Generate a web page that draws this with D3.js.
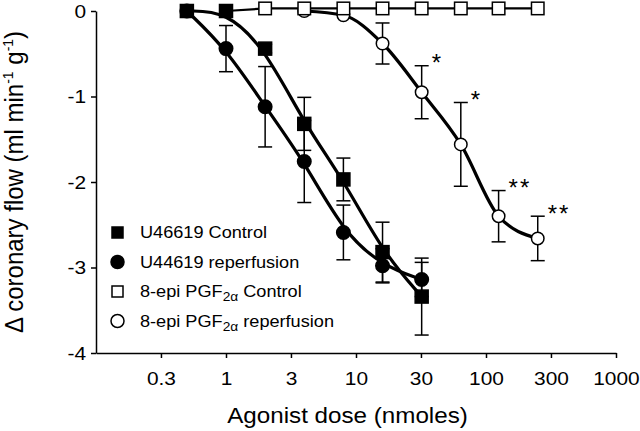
<!DOCTYPE html>
<html><head><meta charset="utf-8">
<script src="https://cdn.jsdelivr.net/npm/d3@7"></script>
<style>
body{margin:0;background:#fff}
svg{display:block;background:#fff}
text{font-family:"Liberation Sans",Arial,Helvetica,sans-serif;fill:#000}
</style>
</head><body>
<svg id="chart" width="640" height="431"></svg>
<script>
// ---- data ----
const uDoses = [0.5, 1, 2, 4, 8, 16, 32];
const u46619Control = [0, 0, -0.44, -1.32, -1.97, -2.82, -3.34];
const u46619ControlSem = [0, 0, 0.05, 0.31, 0.25, 0.35, 0.45];
const u44619Reperf = [0, -0.44, -1.12, -1.76, -2.59, -2.98, -3.14];
const u44619ReperfSem = [0, 0.27, 0.47, 0.48, 0.32, 0.2, 0.2];
const epiControlDoses = [1, 2, 4, 8, 16, 32, 64, 125, 250];
const epiControl = [0, 0.03, 0.03, 0.03, 0.03, 0.03, 0.03, 0.03, 0.03];
const epiReperfDoses = [4, 8, 16, 32, 64, 125, 250];
const epiReperf = [0, -0.05, -0.38, -0.95, -1.56, -2.40, -2.66];
const epiReperfSem = [0, 0, 0.24, 0.31, 0.49, 0.30, 0.26];
const sigDoses = [32, 64, 125, 250];
const sigLabels = ["*", "*", "**", "**"];
const xTickValues = [0.316, 1, 3.16, 10, 31.6, 100, 316, 1000];
const xTickLabels = ["0.3", "1", "3", "10", "30", "100", "300", "1000"];
const yTickValues = [0, -1, -2, -3, -4];
const yTickLabels = ["0", "-1", "-2", "-3", "-4"];
const legendLabels = [["U46619 Control"], ["U44619 reperfusion"], ["8-epi PGF", "2α", " Control"], ["8-epi PGF", "2α", " reperfusion"]];
const legendSymbols = ["filledSquare", "filledCircle", "openSquare", "openCircle"];
const xTitle = "Agonist dose (nmoles)";
const yTitleParts = ["Δ coronary flow (ml min", "-1", " g", "-1", ")"];

// ---- drawing ----
const svg = d3.select("#chart");
const x = d3.scaleLog().domain([0.1, 1000]).range([96, 616]);
const y = d3.scaleLinear().domain([-4, 0]).range([353, 11]);
const zip = (xs, ys) => xs.map((d, i) => [d, ys[i]]);

// axes
const gx = svg.append("g").attr("transform", "translate(0,353)")
  .call(d3.axisBottom(x).tickValues(xTickValues).tickFormat((d, i) => xTickLabels[i])
    .tickSize(5).tickSizeOuter(0).tickPadding(14));
const gy = svg.append("g").attr("transform", "translate(96,0)")
  .call(d3.axisLeft(y).tickValues(yTickValues).tickFormat((d, i) => yTickLabels[i])
    .tickSize(5).tickSizeOuter(0).tickPadding(4));
[gx, gy].forEach(g => {
  g.selectAll("path, line").attr("stroke", "#000").attr("stroke-width", 1.5);
  g.selectAll("text").attr("font-size", 19).attr("fill", "#000")
    .attr("font-family", '"Liberation Sans",Arial,sans-serif')
    .attr("transform", "scale(1.1,1)");
});

// curves
const fitted = d3.line().x(d => x(d[0])).y(d => y(d[1])).curve(d3.curveBasis);
const smooth = d3.line().x(d => x(d[0])).y(d => y(d[1])).curve(d3.curveMonotoneX);
const straight = d3.line().x(d => x(d[0])).y(d => y(d[1]));
const curves = svg.append("g").attr("fill", "none").attr("stroke", "#000");
curves.append("path").attr("d", fitted(zip(uDoses, u46619Control))).attr("stroke-width", 3.2);
curves.append("path").attr("d", fitted(zip(uDoses, u44619Reperf))).attr("stroke-width", 3.2);
curves.append("path").attr("d", smooth(zip(epiReperfDoses, epiReperf))).attr("stroke-width", 3.2);
curves.append("path").attr("d", straight(zip(epiControlDoses, epiControl))).attr("stroke-width", 2.2);

// error bars
function errorBars(doses, vals, sems) {
  const g = svg.append("g").attr("stroke", "#000").attr("stroke-width", 1.5);
  doses.forEach((d, i) => {
    if (!sems[i]) return;
    const cx = x(d), y1 = y(vals[i] + sems[i]), y2 = y(vals[i] - sems[i]);
    g.append("line").attr("x1", cx).attr("x2", cx).attr("y1", y1).attr("y2", y2);
    g.append("line").attr("x1", cx - 7).attr("x2", cx + 7).attr("y1", y1).attr("y2", y1);
    g.append("line").attr("x1", cx - 7).attr("x2", cx + 7).attr("y1", y2).attr("y2", y2);
  });
}
errorBars(epiReperfDoses, epiReperf, epiReperfSem);
errorBars(uDoses, u44619Reperf, u44619ReperfSem);
errorBars(uDoses, u46619Control, u46619ControlSem);

// markers
function drawSymbol(g, type, cx, cy, s) {
  if (type === "filledSquare" || type === "openSquare") {
    g.append("rect").attr("x", cx - s / 2).attr("y", cy - s / 2).attr("width", s).attr("height", s)
      .attr("fill", type === "filledSquare" ? "#000" : "#fff").attr("stroke", "#000").attr("stroke-width", 1.5);
  } else {
    g.append("circle").attr("cx", cx).attr("cy", cy).attr("r", s / 2)
      .attr("fill", type === "filledCircle" ? "#000" : "#fff").attr("stroke", "#000").attr("stroke-width", 1.5);
  }
}
const marks = svg.append("g");
epiReperfDoses.forEach((d, i) => drawSymbol(marks, "openCircle", x(d), y(epiReperf[i]), 12.5));
uDoses.forEach((d, i) => drawSymbol(marks, "filledCircle", x(d), y(u44619Reperf[i]), 13.5));
epiControlDoses.forEach((d, i) => drawSymbol(marks, "openSquare", x(d), y(epiControl[i]), 12.5));
uDoses.forEach((d, i) => drawSymbol(marks, "filledSquare", x(d), y(u46619Control[i]), 13));

// significance asterisks
sigDoses.forEach((d, i) => {
  const k = epiReperfDoses.indexOf(d);
  const top = y(epiReperf[k] + epiReperfSem[k]);
  svg.append("text").attr("x", x(d) + 10).attr("y", top - 7.5 + 13)
    .attr("font-size", 24).attr("letter-spacing", sigLabels[i].length > 1 ? 2 : 0)
    .text(sigLabels[i]);
});

// legend
const leg = svg.append("g");
legendLabels.forEach((parts, i) => {
  const by = 238 + i * 29.5;
  const sym = legendSymbols[i];
  drawSymbol(leg, sym, 117.5, by - 5.5, sym.endsWith("Circle") ? 13 : 11);
  const t = leg.append("text").attr("transform", `translate(140,${by}) scale(1.1,1)`).attr("font-size", 16.5);
  t.append("tspan").text(parts[0]);
  if (parts.length > 1) {
    t.append("tspan").attr("font-size", 12.5).attr("dy", 4).text(parts[1]);
    t.append("tspan").attr("dy", -4).text(parts[2]);
  }
});

// axis titles
svg.append("text").attr("transform", "translate(347.5,423) scale(1.1,1)")
  .attr("text-anchor", "middle").attr("font-size", 22).text(xTitle);
const yt = svg.append("text").attr("transform", "translate(23,182) rotate(-90) scale(1,1.1)")
  .attr("text-anchor", "middle").attr("font-size", 24);
yTitleParts.forEach((p, i) => {
  const sup = i === 1 || i === 3;
  const ts = yt.append("tspan").text(p);
  if (sup) ts.attr("font-size", 14).attr("dy", -9);
  else if (i > 0) ts.attr("dy", 9);
});
</script>
</body></html>
